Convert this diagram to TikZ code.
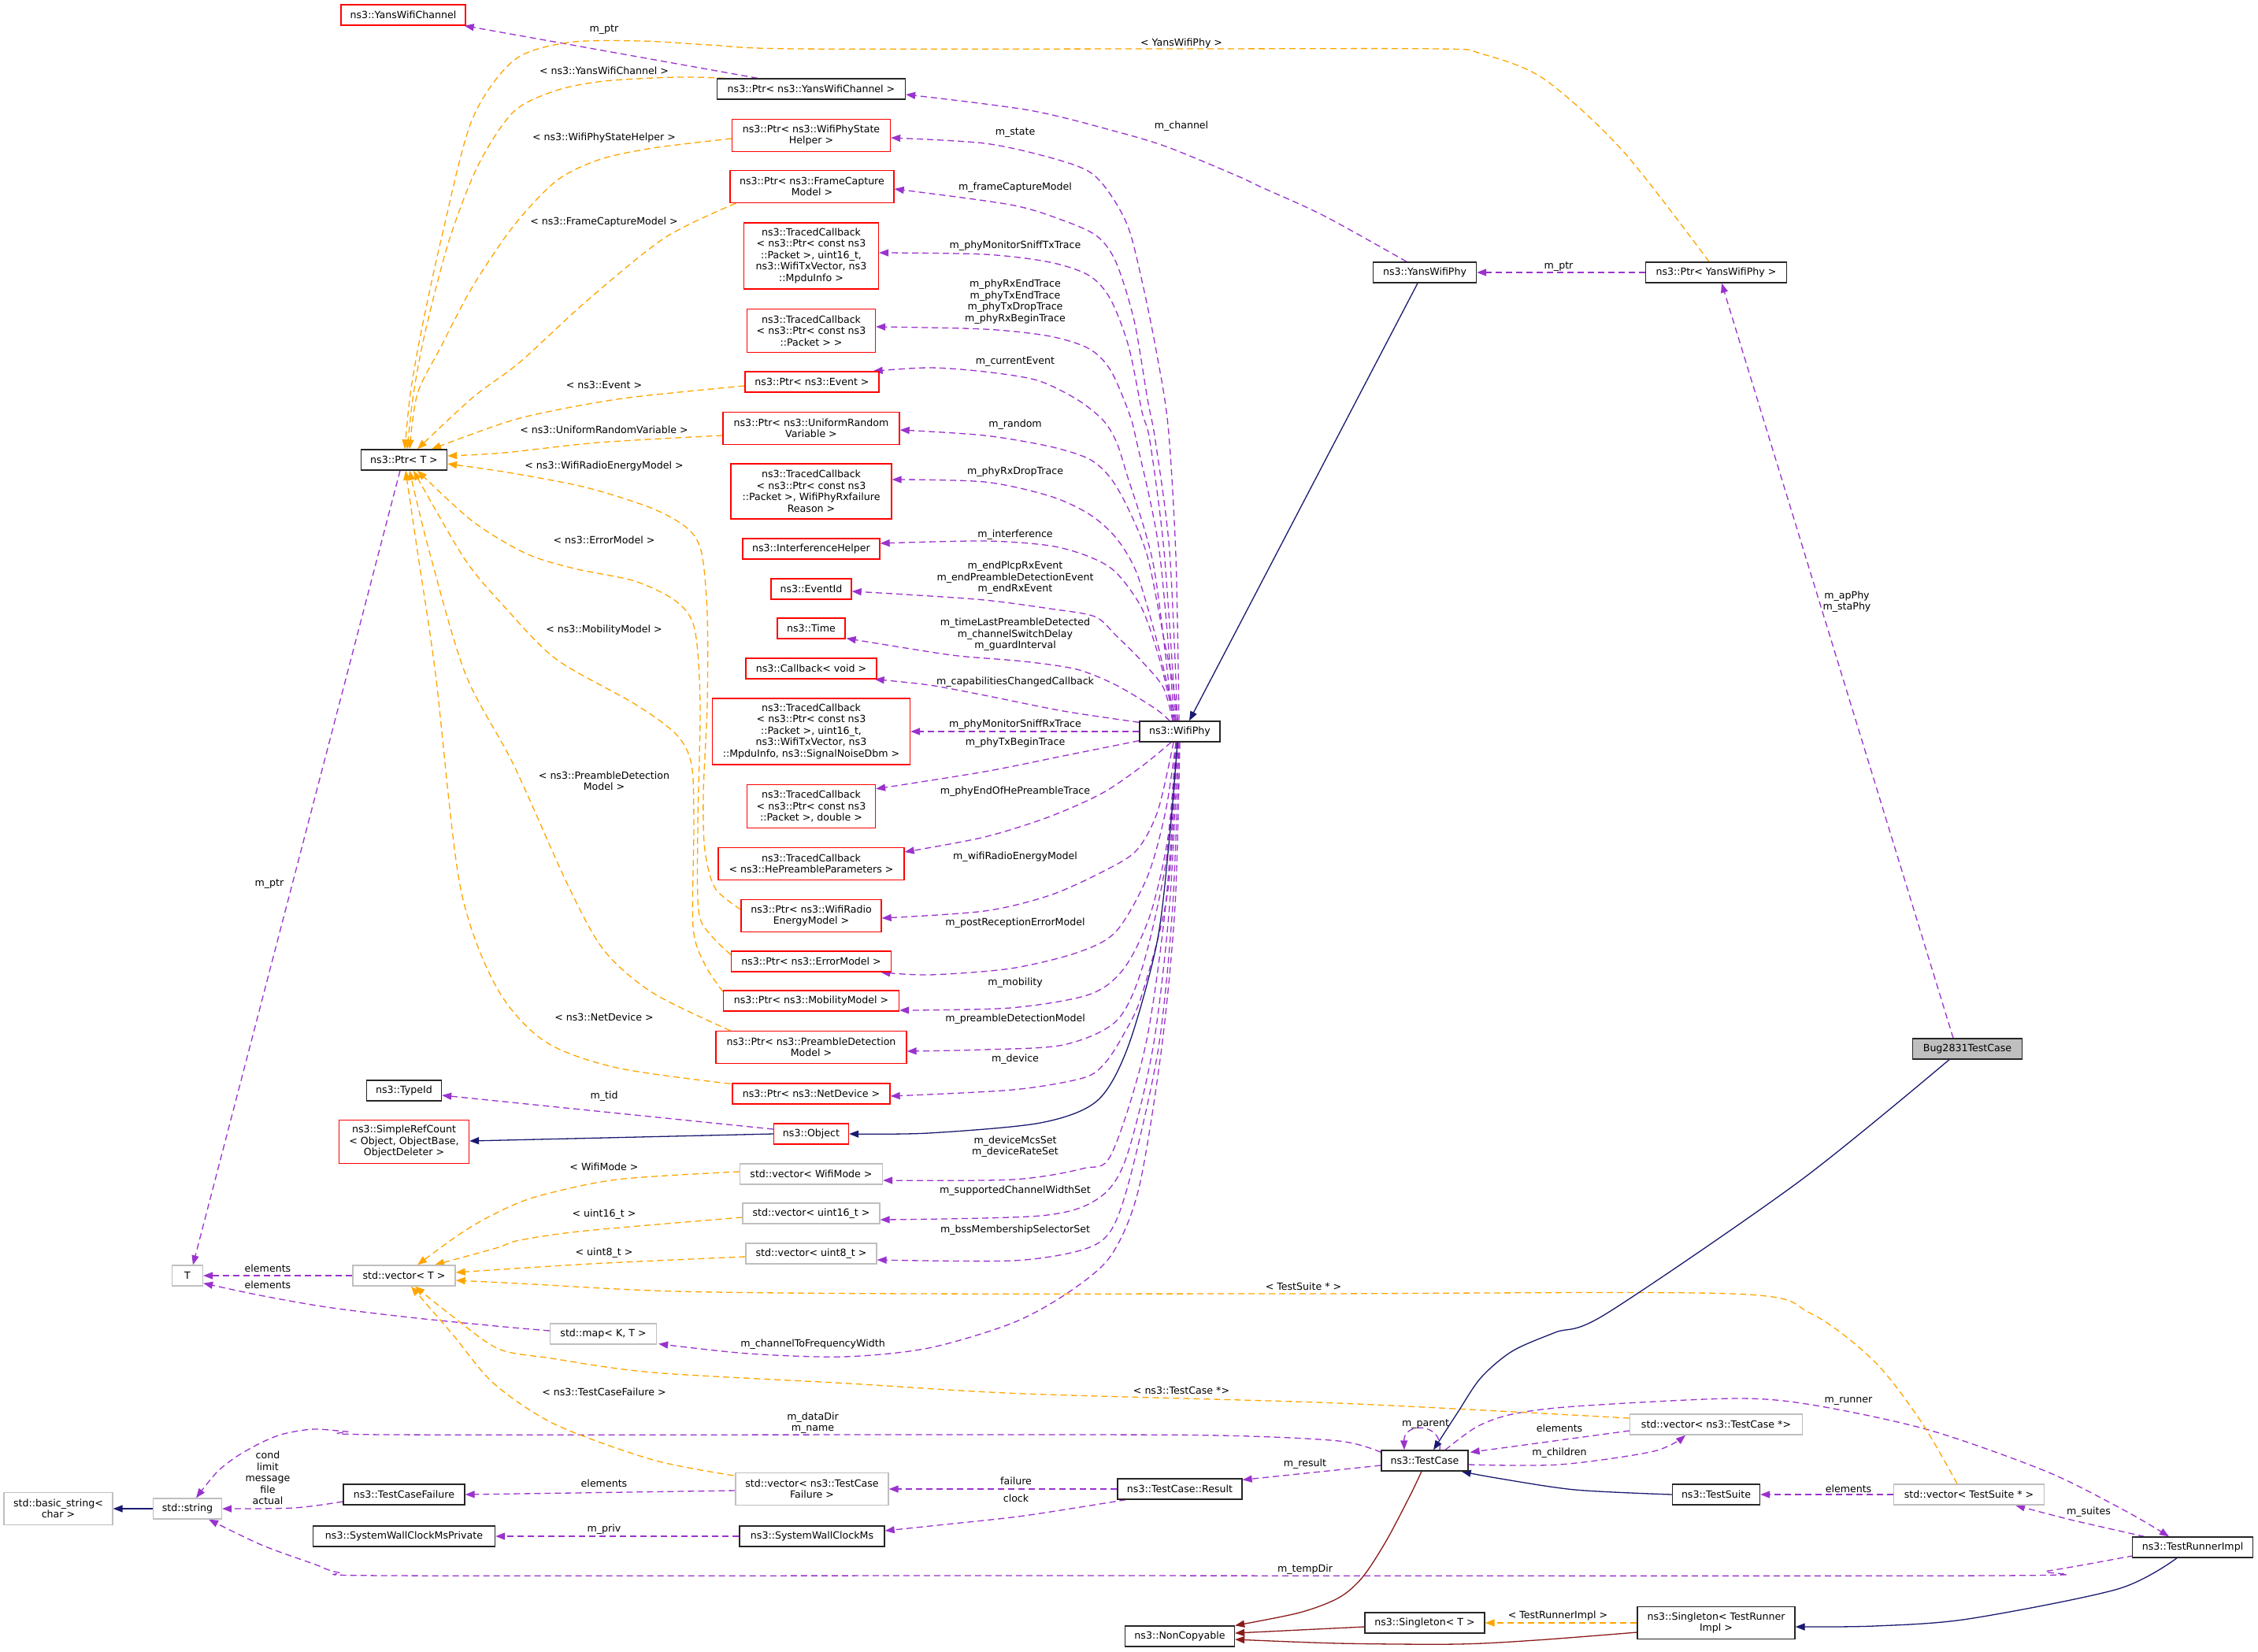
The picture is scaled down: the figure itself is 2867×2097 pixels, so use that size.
\documentclass[tikz,border=0pt]{standalone}
\usepackage{fontspec}
\setmainfont{DejaVu Sans}
\usetikzlibrary{arrows.meta,calc}
\definecolor{purp}{HTML}{9A32CD}
\definecolor{orng}{HTML}{FFA500}
\definecolor{navyc}{HTML}{191970}
\definecolor{fbrick}{HTML}{8B1A1A}
\definecolor{gborder}{HTML}{BFBFBF}
\newcommand\dfs{\fontsize{12.6}{14.5}\selectfont}
\pgfdeclarelayer{bglayer}
\pgfdeclarelayer{edgelayer}
\pgfsetlayers{bglayer,edgelayer,main}
\begin{document}
\begin{tikzpicture}[x=1pt,y=-1pt,
  nd/.style={draw,line width=1.3pt,font=\dfs,align=center,inner sep=0pt,fill=white},
  rd/.style={nd,draw=red},
  bk/.style={nd,draw=black!85},
  gy/.style={nd,draw=gborder},
  h1/.style={minimum height=26pt},
  h2/.style={minimum height=41pt},
  h3/.style={minimum height=55pt},
  h4/.style={minimum height=70pt},
  h5/.style={minimum height=84pt},
  lbl/.style={font=\dfs,align=center,inner sep=0pt},
  tip/.style={-{Triangle[length=12pt,width=9pt]}},
  pedge/.style={draw=purp,line width=1.3pt,dash pattern=on 8pt off 5pt,tip},
  oedge/.style={draw=orng,line width=1.3pt,dash pattern=on 8pt off 5pt,tip},
  nedge/.style={draw=navyc,line width=1.3pt,tip},
  fedge/.style={draw=fbrick,line width=1.3pt,tip}
]
\begin{pgfonlayer}{bglayer}
\fill[white] (0,0) rectangle (2867,2097);
\end{pgfonlayer}
\useasboundingbox (0,0) rectangle (2867,2097);

% ---------------- nodes ----------------
\node[rd,h1,minimum width=158pt] (ychan) at (512,19) {ns3::YansWifiChannel};
\node[bk,h1,minimum width=239pt] (pychan) at (1030,113) {ns3::Ptr< ns3::YansWifiChannel >};
\node[rd,h2,minimum width=201pt] (pstate) at (1030,172) {ns3::Ptr< ns3::WifiPhyState\\Helper >};
\node[rd,h2,minimum width=208pt] (pframe) at (1031,237) {ns3::Ptr< ns3::FrameCapture\\Model >};
\node[rd,h5,minimum width=171pt] (tcb1) at (1030,325) {ns3::TracedCallback\\< ns3::Ptr< const ns3\\::Packet >, uint16\_t,\\ns3::WifiTxVector, ns3\\::MpduInfo >};
\node[rd,h3,minimum width=163pt] (tcb2) at (1030,420) {ns3::TracedCallback\\< ns3::Ptr< const ns3\\::Packet > >};
\node[rd,h1,minimum width=170pt] (pevent) at (1031,485) {ns3::Ptr< ns3::Event >};
\node[rd,h2,minimum width=224pt] (prandom) at (1030,544) {ns3::Ptr< ns3::UniformRandom\\Variable >};
\node[bk,h1,minimum width=109pt] (ptrT) at (513,584) {ns3::Ptr< T >};
\node[rd,h4,minimum width=204pt] (tcb3) at (1030,624) {ns3::TracedCallback\\< ns3::Ptr< const ns3\\::Packet >, WifiPhyRxfailure\\Reason >};
\node[rd,h1,minimum width=174pt] (interf) at (1030,697) {ns3::InterferenceHelper};
\node[rd,h1,minimum width=102pt] (eventid) at (1030,748) {ns3::EventId};
\node[rd,h1,minimum width=86pt] (time) at (1030,798) {ns3::Time};
\node[rd,h1,minimum width=166pt] (cb) at (1030,849) {ns3::Callback< void >};
\node[rd,h5,minimum width=251pt] (tcb4) at (1030,929) {ns3::TracedCallback\\< ns3::Ptr< const ns3\\::Packet >, uint16\_t,\\ns3::WifiTxVector, ns3\\::MpduInfo, ns3::SignalNoiseDbm >};
\node[bk,h1,minimum width=102pt] (wifiphy) at (1498,929) {ns3::WifiPhy};
\node[rd,h3,minimum width=163pt] (tcb5) at (1030,1024) {ns3::TracedCallback\\< ns3::Ptr< const ns3\\::Packet >, double >};
\node[rd,h2,minimum width=236pt] (tcb6) at (1030,1097) {ns3::TracedCallback\\< ns3::HePreambleParameters >};
\node[rd,h2,minimum width=178pt] (pradio) at (1030,1163) {ns3::Ptr< ns3::WifiRadio\\EnergyModel >};
\node[rd,h1,minimum width=203pt] (perror) at (1030,1221) {ns3::Ptr< ns3::ErrorModel >};
\node[rd,h1,minimum width=223pt] (pmob) at (1030,1271) {ns3::Ptr< ns3::MobilityModel >};
\node[rd,h2,minimum width=242pt] (ppre) at (1030,1330) {ns3::Ptr< ns3::PreambleDetection\\Model >};
\node[rd,h1,minimum width=200pt] (pnet) at (1030,1389) {ns3::Ptr< ns3::NetDevice >};
\node[bk,h1,minimum width=95pt] (typeid) at (513,1385) {ns3::TypeId};
\node[rd,h3,minimum width=165pt] (simpleref) at (513,1450) {ns3::SimpleRefCount\\< Object, ObjectBase,\\ObjectDeleter >};
\node[rd,h1,minimum width=95pt] (object) at (1030,1440) {ns3::Object};
\node[gy,h1,minimum width=181pt] (vwm) at (1030,1491) {std::vector< WifiMode >};
\node[gy,h1,minimum width=174pt] (vu16) at (1030,1541) {std::vector< uint16\_t >};
\node[gy,h1,minimum width=166pt] (vu8) at (1030,1592) {std::vector< uint8\_t >};
\node[gy,h1,minimum width=130pt] (vT) at (513,1620) {std::vector< T >};
\node[gy,h1,minimum width=39pt] (T) at (238,1620) {T};
\node[gy,h1,minimum width=135pt] (map) at (766,1694) {std::map< K, T >};
\node[gy,h2,minimum width=138pt] (bstr) at (74,1916) {std::basic\_string<\\char >};
\node[gy,h1,minimum width=87pt] (str) at (238,1916) {std::string};
\node[bk,h1,minimum width=154pt] (tcf) at (513,1898) {ns3::TestCaseFailure};
\node[bk,h1,minimum width=231pt] (swcp) at (513,1951) {ns3::SystemWallClockMsPrivate};
\node[gy,h2,minimum width=194pt] (vtcf) at (1031,1891) {std::vector< ns3::TestCase\\Failure >};
\node[bk,h1,minimum width=184pt] (swc) at (1031,1951) {ns3::SystemWallClockMs};
\node[bk,h1,minimum width=110pt] (tc) at (1809,1855) {ns3::TestCase};
\node[bk,h1,minimum width=158pt] (res) at (1498,1891) {ns3::TestCase::Result};
\node[gy,h1,minimum width=219pt] (vtc) at (2179,1809) {std::vector< ns3::TestCase *>};
\node[bk,h1,minimum width=111pt] (ts) at (2179,1898) {ns3::TestSuite};
\node[gy,h1,minimum width=191pt] (vts) at (2500,1898) {std::vector< TestSuite * >};
\node[bk,h1,minimum width=153pt] (runner) at (2784,1965) {ns3::TestRunnerImpl};
\node[bk,h1,minimum width=139pt] (noncopy) at (1498,2078) {ns3::NonCopyable};
\node[bk,h1,minimum width=152pt] (singT) at (1809,2061) {ns3::Singleton< T >};
\node[bk,h2,minimum width=200pt] (singR) at (2179,2061) {ns3::Singleton< TestRunner\\Impl >};
\node[bk,h1,minimum width=131pt] (yphy) at (1809,346) {ns3::YansWifiPhy};
\node[bk,h1,minimum width=179pt] (pyphy) at (2179,346) {ns3::Ptr< YansWifiPhy >};
\node[bk,h1,minimum width=139pt,fill=gborder] (bug) at (2498,1332) {Bug2831TestCase};

% ---------------- edges ----------------
\begin{pgfonlayer}{edgelayer}
% purple: WifiPhy upper fan
\draw[pedge] plot[smooth] coordinates {($(wifiphy.north)+(-1,0)$) (1493,707) (1483,540) (1467,440) (1450,357) (1433,290) (1410,247) (1383,218) (1333,200) (1250,182) ($(pstate.east)+(0,3)$)};
\draw[pedge] plot[smooth] coordinates {($(wifiphy.north)+(-3,0)$) (1485,700) (1467,560) (1457,507) (1440,407) (1417,333) (1393,300) (1350,280) (1283,260) ($(pframe.east)+(0,3)$)};
\draw[pedge] plot[smooth] coordinates {($(wifiphy.north)+(-5,0)$) (1478,700) (1460,560) (1450,523) (1433,440) (1410,380) (1383,350) (1333,333) (1250,323) ($(tcb1.east)+(0,-4)$)};
\draw[pedge] plot[smooth] coordinates {($(wifiphy.north)+(-7,0)$) (1472,700) (1443,560) (1433,523) (1410,470) (1383,443) (1333,427) (1250,418) ($(tcb2.east)+(0,-5)$)};
\draw[pedge] plot[smooth] coordinates {($(wifiphy.north)+(-9,0)$) (1465,720) (1430,600) (1417,560) (1400,533) (1367,507) (1317,483) (1250,472) (1180,467) ($(pevent.north east)+(-8,0)$)};
\draw[pedge] plot[smooth] coordinates {($(wifiphy.north)+(-3,0)$) (1490,873) (1477,807) (1457,707) (1433,647) (1410,607) (1383,583) (1333,567) (1250,553) ($(prandom.east)+(0,2)$)};
\draw[pedge] plot[smooth] coordinates {($(wifiphy.north)+(-5,0)$) (1483,873) (1467,807) (1443,727) (1417,683) (1383,653) (1333,630) (1250,612) ($(tcb3.east)+(0,-15)$)};
\draw[pedge] plot[smooth] coordinates {($(wifiphy.north)+(-7,0)$) (1473,840) (1450,773) (1417,727) (1383,707) (1333,693) (1250,687) ($(interf.east)+(0,-7)$)};
\draw[pedge] plot[smooth] coordinates {($(wifiphy.north)+(-9,0)$) (1477,873) (1450,840) (1417,807) (1390,783) (1333,773) (1250,762) (1150,755) ($(eventid.east)+(0,3)$)};
\draw[pedge] plot[smooth] coordinates {($(wifiphy.north)+(-13,0)$) (1467,900) (1417,870) (1367,850) (1300,840) (1217,833) (1150,823) ($(time.south east)+(1,-1)$)};
\draw[pedge] plot[smooth] coordinates {($(wifiphy.north west)+(0,2)$) (1350,903) (1250,883) (1180,870) ($(cb.south east)+(-3,0)$)};
\draw[pedge] (wifiphy.west) -- (tcb4.east);
% purple: WifiPhy lower fan
\draw[pedge] plot[smooth] coordinates {($(wifiphy.south west)+(0,-2)$) (1350,960) (1250,980) ($(tcb5.north east)+(0,6)$)};
\draw[pedge] plot[smooth] coordinates {($(wifiphy.south)+(-11,0)$) (1450,973) (1400,1007) (1333,1037) (1250,1063) ($(tcb6.east)+(0,-15)$)};
\draw[pedge] plot[smooth] coordinates {($(wifiphy.south)+(-8,0)$) (1470,1030) (1443,1080) (1400,1107) (1333,1137) (1250,1157) ($(pradio.east)+(0,3)$)};
\draw[pedge] plot[smooth] coordinates {($(wifiphy.south)+(-5,0)$) (1480,1030) (1457,1113) (1417,1183) (1367,1210) (1283,1230) (1180,1238) ($(perror.south east)+(-14,0)$)};
\draw[pedge] plot[smooth] coordinates {($(wifiphy.south)+(-5,0)$) (1483,1063) (1460,1163) (1427,1230) (1383,1263) (1283,1280) ($(pmob.east)+(0,12)$)};
\draw[pedge] plot[smooth] coordinates {($(wifiphy.south)+(-4,0)$) (1480,1097) (1450,1230) (1417,1297) (1350,1327) (1250,1333) ($(ppre.east)+(0,5)$)};
\draw[pedge] plot[smooth] coordinates {($(wifiphy.south)+(-4,0)$) (1483,1130) (1450,1263) (1427,1313) (1403,1350) (1375,1369) (1286,1384) ($(pnet.east)+(0,3)$)};
\draw[pedge] plot[smooth] coordinates {($(wifiphy.south)+(-3,0)$) (1480,1150) (1454,1330) (1411,1466) (1375,1484) (1286,1498) ($(vwm.east)+(0,8)$)};
\draw[pedge] plot[smooth] coordinates {($(wifiphy.south)+(-2,0)$) (1485,1150) (1464,1330) (1429,1473) (1393,1523) (1321,1544) ($(vu16.east)+(0,8)$)};
\draw[pedge] plot[smooth] coordinates {($(wifiphy.south)+(-1,0)$) (1489,1150) (1471,1330) (1436,1491) (1411,1562) (1375,1587) (1286,1601) ($(vu8.east)+(0,8)$)};
\draw[pedge] plot[smooth] coordinates {(wifiphy.south) (1492,1150) (1475,1330) (1446,1509) (1411,1594) (1357,1641) (1286,1680) (1179,1712) (1071,1723) (950,1719) ($(map.south east)+(2,-1)$)};
% navy: WifiPhy -> Object
\draw[nedge] plot[smooth] coordinates {($(wifiphy.south)+(-3,0)$) (1485,1063) (1469,1197) (1432,1330) (1393,1398) (1321,1426) (1179,1439) (object.east)};
% purple others
\draw[pedge] ($(pychan.north)+(-68,0)$) -- ($(ychan.south east)+(-2,0)$);
\draw[pedge] plot[smooth] coordinates {($(yphy.north)+(-23,0)$) (1681,274) (1600,237) (1570,223) (1483,187) (1417,167) (1307,140) ($(pychan.east)+(0,7)$)};
\draw[pedge] ($(ptrT.south)+(-5,0)$) -- ($(T.north)+(7,0)$);
\draw[pedge] (vT.west) -- (T.east);
\draw[pedge] plot[smooth] coordinates {($(map.west)+(0,-4)$) (640,1685) (520,1673) (415,1660) (330,1645) ($(T.south east)+(0,-4)$)};
\draw[pedge] plot[smooth] coordinates {($(tc.north west)+(0,3)$) (1700,1830) (1550,1823) (1300,1822) (497,1822) (440,1818) (398,1815) (360,1821) (332,1832) (300,1850) (275,1870) ($(str.north)+(11,0)$)};
\draw[pedge] plot[smooth] coordinates {($(tcf.west)+(0,9)$) (373,1915) (str.east)};
\draw[pedge] plot[smooth] coordinates {($(runner.south west)+(2,-3)$) (2600,1995) (2529,2001) (1300,2001) (497,2001) (430,1997) (398,1986) (332,1962) ($(str.south)+(27,0)$)};
\draw[pedge] ($(vtcf.west)+(0,2)$) -- (tcf.east);
\draw[pedge] (swc.west) -- (swcp.east);
\draw[pedge] (res.west) -- (vtcf.east);
\draw[pedge] plot[smooth] coordinates {($(res.south west)+(11,0)$) (1300,1925) (1200,1936) ($(swc.east)+(0,-7)$)};
\draw[pedge] ($(tc.west)+(0,6)$) -- ($(res.north east)+(0,2)$);
\draw[pedge] ($(tc.north)+(19,0)$) .. controls (1832,1806) and (1782,1806) .. ($(tc.north)+(-26,0)$);
\draw[pedge] plot[smooth] coordinates {($(tc.east)+(0,5)$) (1980,1860) (2100,1843) ($(vtc.south)+(-39,0)$)};
\draw[pedge] ($(vtc.west)+(0,8)$) -- ($(tc.north east)+(2,3)$);
\draw[pedge] plot[smooth] coordinates {($(tc.north)+(26,0)$) (1875,1812) (1920,1796) (2000,1786) (2200,1776) (2300,1784) (2449,1816) (2599,1869) (2699,1919) ($(runner.north)+(-30,0)$)};
\draw[pedge] plot[smooth] coordinates {($(runner.north west)+(16,0)$) (2629,1930) ($(vts.south)+(59,0)$)};
\draw[pedge] (vts.west) -- (ts.east);
\draw[pedge] ($(bug.north)+(-18,0)$) -- ($(pyphy.south)+(7,0)$);
\draw[pedge] (pyphy.west) -- (yphy.east);
\draw[pedge] ($(object.west)+(0,-6)$) -- ($(typeid.east)+(0,6)$);
% orange: to Ptr<T>
\draw[oedge] plot[smooth] coordinates {($(pyphy.north)+(-9,0)$) (2060,191) (1960,100) (1880,68) (1826,62) (1500,62) (1012,62) (900,57) (813,52) (721,54) (652,77) (599,153) (561,300) (535,420) (521,500) ($(ptrT.north)+(1,0)$)};
\draw[oedge] plot[smooth] coordinates {($(pychan.north west)+(10,0)$) (859,98) (767,103) (706,115) (652,142) (607,210) (570,306) (540,421) (525,500) ($(ptrT.north)+(4,0)$)};
\draw[oedge] plot[smooth] coordinates {($(pstate.west)+(0,4)$) (829,188) (760,203) (706,230) (652,287) (600,364) (560,440) (530,500) ($(ptrT.north)+(7,0)$)};
\draw[oedge] plot[smooth] coordinates {($(pframe.south west)+(8,0)$) (844,302) (744,383) (660,460) (600,505) ($(ptrT.north)+(17,0)$)};
\draw[oedge] plot[smooth] coordinates {($(pevent.west)+(0,5)$) (798,505) (700,522) (640,537) ($(ptrT.north)+(35,0)$)};
\draw[oedge] plot[smooth] coordinates {($(prandom.west)+(0,9)$) (760,562) (640,575) ($(ptrT.east)+(0,-5)$)};
\draw[oedge] plot[smooth] coordinates {($(pradio.west)+(0,-8)$) (908,1128) (895,1080) (893,1009) (898,894) (898,780) (891,703) (874,672) (829,646) (744,619) (645,600) ($(ptrT.east)+(0,5)$)};
\draw[oedge] plot[smooth] coordinates {($(perror.north west)+(0,5)$) (903,1188) (887,1157) (886,1047) (889,894) (882,799) (859,764) (806,738) (729,722) (668,703) (600,662) ($(ptrT.south)+(17,0)$)};
\draw[oedge] plot[smooth] coordinates {($(pmob.north west)+(0,2)$) (895,1225) (880,1177) (881,1047) (878,971) (859,933) (806,894) (706,837) (640,770) (590,710) ($(ptrT.south)+(12,0)$)};
\draw[oedge] plot[smooth] coordinates {($(ppre.north west)+(19,0)$) (829,1261) (767,1207) (721,1124) (652,971) (591,856) (545,700) ($(ptrT.south)+(7,0)$)};
\draw[oedge] plot[smooth] coordinates {($(pnet.north west)+(-2,1)$) (783,1356) (691,1322) (630,1253) (584,1124) (553,856) (530,700) ($(ptrT.south)+(2,0)$)};
% orange: to vector<T>
\draw[oedge] plot[smooth] coordinates {($(vwm.west)+(0,-3)$) (783,1498) (680,1520) (627,1542) (584,1567) ($(vT.north)+(17,0)$)};
\draw[oedge] plot[smooth] coordinates {($(vu16.west)+(0,5)$) (744,1563) (660,1575) (630,1585) ($(vT.north)+(39,0)$)};
\draw[oedge] plot[smooth] coordinates {($(vu8.west)+(0,4)$) (750,1605) ($(vT.east)+(0,-4)$)};
\draw[oedge] plot[smooth] coordinates {($(vts.north)+(-15,0)$) (2439,1805) (2379,1728) (2299,1668) (2199,1643) (1655,1643) (1165,1643) (859,1640) (660,1630) ($(vT.east)+(0,6)$)};
\draw[oedge] plot[smooth] coordinates {($(vtc.west)+(0,-8)$) (1700,1782) (1300,1770) (1078,1757) (829,1743) (700,1725) (633,1713) (575,1672) ($(vT.south)+(14,0)$)};
\draw[oedge] plot[smooth] coordinates {($(vtcf.north west)+(-2,4)$) (829,1854) (705,1809) (627,1757) (575,1695) ($(vT.south)+(9,0)$)};
\draw[oedge] (singR.west) -- (singT.east);
% navy
\draw[nedge] plot[smooth] coordinates {($(bug.south)+(-23,0)$) (2285,1500) (2040,1668) (1975,1692) (1920,1716) (1880,1750) (1850,1795) ($(tc.north)+(11,0)$)};
\draw[nedge] plot[smooth] coordinates {(ts.west) (2000,1892) (1900,1877) ($(tc.south east)+(-9,0)$)};
\draw[nedge] plot[smooth] coordinates {($(runner.south)+(-20,0)$) (2689,2018) (2499,2056) (2380,2065) ($(singR.east)+(0,5)$)};
\draw[nedge] (str.west) -- (bstr.east);
\draw[nedge] ($(yphy.south)+(-9,0)$) -- ($(wifiphy.north)+(12,0)$);
\draw[nedge] (object.west) -- ($(simpleref.east)+(0,-1)$);
% firebrick
\draw[fedge] plot[smooth] coordinates {($(tc.south)+(-4,0)$) (1790,1900) (1760,1957) (1730,2003) (1700,2029) (1650,2048) (noncopy.north east)};
\draw[fedge] ($(singT.west)+(0,5)$) -- ($(noncopy.east)+(0,-4)$);
\draw[fedge] plot[smooth] coordinates {($(singR.west)+(0,12)$) (1950,2083) (1850,2088) (1700,2087) ($(noncopy.east)+(0,4)$)};
\end{pgfonlayer}

% ---------------- labels ----------------
\node[lbl] (la1) at (767,38) {m\_ptr};
\node[lbl] (la2) at (1500,55) {< YansWifiPhy >};
\node[lbl] (la3) at (767,90) {< ns3::YansWifiChannel >};
\node[lbl] (la4) at (1500,160) {m\_channel};
\node[lbl] (la5) at (767,175) {< ns3::WifiPhyStateHelper >};
\node[lbl] (la6) at (1289,169) {m\_state};
\node[lbl] (la7) at (1289,238) {m\_frameCaptureModel};
\node[lbl] (la8) at (767,282) {< ns3::FrameCaptureModel >};
\node[lbl] (la9) at (1289,312) {m\_phyMonitorSniffTxTrace};
\node[lbl] (la10) at (1289,383) {m\_phyRxEndTrace\\m\_phyTxEndTrace\\m\_phyTxDropTrace\\m\_phyRxBeginTrace};
\node[lbl] (la11) at (1289,459) {m\_currentEvent};
\node[lbl] (la12) at (767,489) {< ns3::Event >};
\node[lbl] (la13) at (1289,539) {m\_random};
\node[lbl] (la14) at (767,546) {< ns3::UniformRandomVariable >};
\node[lbl] (la15) at (767,592) {< ns3::WifiRadioEnergyModel >};
\node[lbl] (la16) at (1289,599) {m\_phyRxDropTrace};
\node[lbl] (la17) at (767,686) {< ns3::ErrorModel >};
\node[lbl] (la18) at (1289,679) {m\_interference};
\node[lbl] (la19) at (1289,734) {m\_endPlcpRxEvent\\m\_endPreambleDetectionEvent\\m\_endRxEvent};
\node[lbl] (la20) at (767,800) {< ns3::MobilityModel >};
\node[lbl] (la21) at (1289,806) {m\_timeLastPreambleDetected\\m\_channelSwitchDelay\\m\_guardInterval};
\node[lbl] (la22) at (1289,866) {m\_capabilitiesChangedCallback};
\node[lbl] (la23) at (1289,920) {m\_phyMonitorSniffRxTrace};
\node[lbl] (la24) at (1289,943) {m\_phyTxBeginTrace};
\node[lbl] (la25) at (767,992) {< ns3::PreambleDetection\\Model >};
\node[lbl] (la26) at (1289,1005) {m\_phyEndOfHePreambleTrace};
\node[lbl] (la27) at (1289,1088) {m\_wifiRadioEnergyModel};
\node[lbl] (la28) at (1289,1172) {m\_postReceptionErrorModel};
\node[lbl] (la29) at (1289,1248) {m\_mobility};
\node[lbl] (la30) at (767,1292) {< ns3::NetDevice >};
\node[lbl] (la31) at (1289,1294) {m\_preambleDetectionModel};
\node[lbl] (la32) at (1289,1345) {m\_device};
\node[lbl] (la33) at (767,1392) {m\_tid};
\node[lbl] (la34) at (1289,1456) {m\_deviceMcsSet\\m\_deviceRateSet};
\node[lbl] (la35) at (767,1482) {< WifiMode >};
\node[lbl] (la36) at (1289,1512) {m\_supportedChannelWidthSet};
\node[lbl] (la37) at (767,1542) {< uint16\_t >};
\node[lbl] (la38) at (1289,1562) {m\_bssMembershipSelectorSet};
\node[lbl] (la39) at (767,1591) {< uint8\_t >};
\node[lbl] (la40) at (340,1611) {elements};
\node[lbl] (la41) at (340,1632) {elements};
\node[lbl] (la42) at (1032,1707) {m\_channelToFrequencyWidth};
\node[lbl] (la43) at (767,1768) {< ns3::TestCaseFailure >};
\node[lbl] (la44) at (1032,1807) {m\_dataDir\\m\_name};
\node[lbl] (la45) at (340,1877) {cond\\limit\\message\\file\\actual};
\node[lbl] (la46) at (767,1884) {elements};
\node[lbl] (la47) at (767,1942) {m\_priv};
\node[lbl] (la48) at (1290,1881) {failure};
\node[lbl] (la49) at (1290,1903) {clock};
\node[lbl] (la50) at (1655,1634) {< TestSuite * >};
\node[lbl] (la51) at (1500,1766) {< ns3::TestCase *>};
\node[lbl] (la52) at (2347,1779) {m\_runner};
\node[lbl] (la53) at (1810,1809) {m\_parent};
\node[lbl] (la54) at (1980,1814) {elements};
\node[lbl] (la55) at (1980,1845) {m\_children};
\node[lbl] (la56) at (1657,1859) {m\_result};
\node[lbl] (la57) at (2347,1891) {elements};
\node[lbl] (la58) at (2652,1920) {m\_suites};
\node[lbl] (la59) at (1657,1993) {m\_tempDir};
\node[lbl] (la60) at (1978,2052) {< TestRunnerImpl >};
\node[lbl] (la61) at (1979,339) {m\_ptr};
\node[lbl] (la62) at (2345,764) {m\_apPhy\\m\_staPhy};
\node[lbl] (la63) at (342,1123) {m\_ptr};
\end{tikzpicture}
\end{document}
